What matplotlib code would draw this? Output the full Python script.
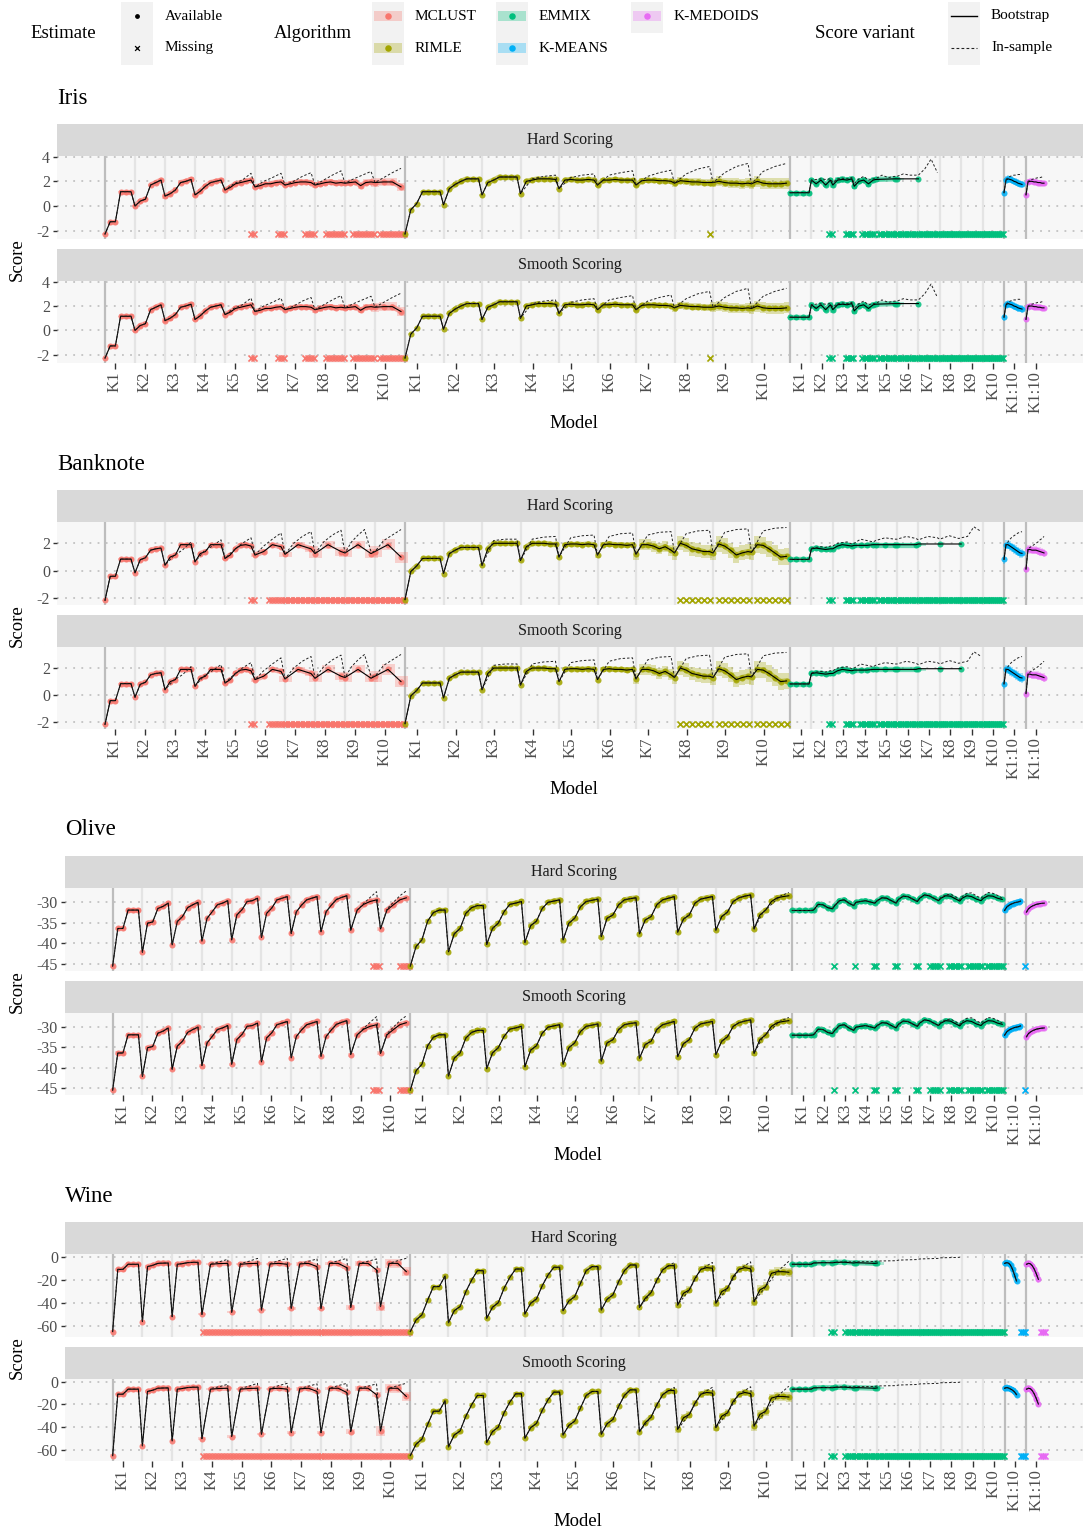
import matplotlib.pyplot as plt
from matplotlib.patches import Rectangle
from matplotlib.collections import LineCollection

plt.rcParams['font.family'] = ['Liberation Serif', 'DejaVu Serif']

W, H = 1083, 1530

# ---------------- data ----------------
# each algorithm: list of K groups -> bootstrap scores, in-sample scores
# (None = same as bootstrap), band half-width per K, missing models per K

# Iris
iris_mclust = [[-2.27, -1.27, -1.27, 1.16, 1.16, 1.16], [0.0, 0.4, 0.55, 1.7, 1.9, 2.1],
               [0.8, 1.0, 1.3, 1.9, 2.0, 2.15], [0.9, 1.2, 1.6, 1.9, 2.0, 2.1],
               [1.3, 1.5, 1.8, 1.9, 2.0, 2.1], [1.55, 1.65, 1.8, 1.8, 1.9, 1.95],
               [1.7, 1.8, 1.9, 1.95, 1.95, 1.9], [1.7, 1.8, 1.9, 1.95, 1.85, 1.9],
               [1.85, 1.9, 1.95, 1.65, 1.9, 1.95], [1.9, 1.95, 1.95, 1.55]]
iris_mclust_ins = [None, None, None, None, [1.3, 1.8, 2.1, 2.65], [1.55, 2.0, 2.3, 2.65],
                   [1.7, 2.0, 2.4, 2.7], [1.7, 2.1, 2.5, 2.85], [1.85, 2.2, 2.5, 2.8],
                   [1.9, 2.3, 2.7, 3.05]]
iris_mclust_band = [0.05, 0.1, 0.2, 0.15, 0.15, 0.15, 0.2, 0.25, 0.25, 0.35]
iris_mclust_miss = [0, 0, 0, 0, 2, 3, 4, 7, 8, 9]

iris_rimle = [[-2.27, -0.3, 0.2, 1.16, 1.16, 1.16, 1.16], [0.1, 1.4, 1.75, 2.0, 2.2, 2.2, 2.2],
              [0.9, 1.9, 2.1, 2.35, 2.35, 2.35, 2.35], [1.0, 2.0, 2.1, 2.2, 2.2, 2.2, 2.15],
              [1.4, 2.1, 2.15, 2.1, 2.1, 2.15, 2.1], [1.7, 2.1, 2.1, 2.15, 2.1, 2.1, 2.1],
              [1.7, 2.05, 2.1, 2.1, 2.05, 2.05, 2.0], [1.85, 2.05, 2.0, 1.95, 1.95, 1.9, 1.9],
              [1.9, 2.0, 1.9, 1.85, 1.85, 1.8, 1.85], [1.8, 2.0, 1.85, 1.8, 1.8, 1.8, 1.85]]
iris_rimle_ins = [None, None, None, [1.0, 2.2, 2.4, 2.5], [1.4, 2.3, 2.5, 2.6],
                  [1.7, 2.5, 2.7, 2.85], [1.7, 2.4, 2.7, 2.9], [1.85, 2.6, 3.0, 3.2],
                  [1.9, 2.7, 3.2, 3.45], [1.8, 2.8, 3.2, 3.45]]
iris_rimle_band = [0.05, 0.05, 0.05, 0.08, 0.1, 0.15, 0.2, 0.3, 0.4, 0.45]
iris_rimle_miss = [0, 0, 0, 0, 0, 0, 0, 1, 0, 0]

iris_emmix = [[1.08, 1.08, 1.08, 1.08], [2.1, 1.8, 2.1, 1.7, 2.1], [1.7, 2.1, 2.15, 2.1, 2.2],
              [1.6, 2.0, 2.1, 1.8, 2.1], [2.15, 2.2], [2.2], [2.2], [], [], []]
iris_emmix_ins = [None, [2.1, 2.15, 2.2, 2.15, 2.2], [1.9, 2.2, 2.25, 2.2, 2.3],
                  [1.8, 2.2, 2.4, 2.1, 2.2], [2.2, 2.5, 2.3, 2.4], [2.4, 2.6, 2.5, 2.5],
                  [2.5, 3.0, 3.8, 2.7], [], [], []]
iris_emmix_band = [0.05, 0.2, 0.25, 0.25, 0.1, 0.1, 0.1, 0, 0, 0]
iris_emmix_miss = [0, 2, 4, 6, 8, 9, 10, 11, 11, 11]

iris_kmeans = [[1.08, 2.1, 2.2, 2.15, 2.1, 2.0, 1.95, 1.85, 1.8, 1.75]]
iris_kmeans_ins = [[1.08, 2.15, 2.3, 2.4, 2.45, 2.5, 2.5, 2.55, 2.55, 2.6]]
iris_kmeans_band = [0.3]
iris_kmeans_miss = [0]
iris_kmedoids = [[0.9, 1.95, 2.0, 2.0, 1.95, 1.95, 1.9, 1.9, 1.85, 1.85]]
iris_kmedoids_ins = [[0.9, 2.0, 2.1, 2.15, 2.2, 2.25, 2.3, 2.3, 2.35, 2.4]]
iris_kmedoids_band = [0.2]
iris_kmedoids_miss = [0]

# Banknote
bank_mclust = [[-2.15, -0.4, -0.4, 0.85, 0.85, 0.85], [-0.15, 0.8, 0.95, 1.5, 1.6, 1.65],
               [0.4, 1.0, 1.15, 1.9, 1.9, 1.9], [0.65, 1.25, 1.4, 1.9, 1.9, 1.9],
               [0.9, 1.15, 1.6, 1.85, 1.9, 1.8], [1.15, 1.4, 1.9, 1.75],
               [1.2, 1.9, 1.6], [1.25, 1.9, 1.4], [1.3, 1.9, 1.25], [1.4, 1.9, 1.0]]
bank_mclust_ins = [None, None, [0.4, 1.1, 1.5, 2.1], [0.65, 1.4, 1.8, 2.25], [0.9, 1.5, 2.0, 2.4],
                   [1.15, 1.8, 2.3, 2.75], [1.2, 2.0, 2.5, 2.85], [1.25, 2.1, 2.6, 2.95],
                   [1.3, 2.1, 2.6, 3.0, 1.4], [1.4, 2.2, 2.6, 3.0]]
bank_mclust_band = [0.05, 0.05, 0.1, 0.1, 0.15, 0.15, 0.2, 0.3, 0.3, 0.4]
bank_mclust_miss = [0, 0, 0, 0, 2, 6, 12, 12, 12, 12]

bank_rimle = [[-2.1, -0.05, 0.35, 0.9, 0.9, 0.9, 0.9], [-0.2, 1.25, 1.5, 1.7, 1.7, 1.7, 1.7],
              [0.4, 1.6, 2.0, 2.0, 2.0, 2.0, 2.0], [0.75, 1.75, 2.0, 2.0, 2.0, 1.95, 1.95],
              [1.0, 1.9, 1.95, 1.95, 1.9, 1.95, 1.9], [1.15, 1.9, 1.95, 1.9, 1.9, 1.85, 1.9],
              [1.2, 1.9, 1.9, 1.8, 1.6, 1.75, 1.5], [1.3, 2.0, 1.85, 1.6, 1.5, 1.4, 1.4],
              [1.3, 1.95, 1.8, 1.5, 1.15, 1.3, 1.4], [1.35, 1.9, 1.85, 1.6, 1.3, 1.0, 1.05]]
bank_rimle_ins = [None, None, [0.4, 2.2, 2.3, 2.3], [0.75, 2.3, 2.45, 2.5], [1.0, 2.4, 2.55, 2.6],
                  [1.15, 2.5, 2.7, 2.75], [1.2, 2.6, 2.8, 2.85], [1.3, 2.7, 2.9, 2.95],
                  [1.3, 2.8, 3.0, 3.05], [1.35, 2.9, 3.1, 3.15]]
bank_rimle_band = [0.05, 0.05, 0.08, 0.1, 0.15, 0.2, 0.4, 0.5, 0.55, 0.6]
bank_rimle_miss = [0, 0, 0, 0, 0, 0, 0, 6, 6, 6]

bank_emmix = [[0.83, 0.83, 0.83, 0.83], [1.6, 1.65, 1.6, 1.55, 1.6], [1.6, 1.8, 1.9, 1.85, 1.8],
              [1.85, 1.85, 1.85, 1.9], [1.9, 1.9, 1.9], [1.9, 1.9], [1.95], [1.95], [1.95], []]
bank_emmix_ins = [None, [1.65, 1.7, 1.75, 1.7, 1.8], [1.8, 2.0, 2.05, 2.1, 1.95],
                  [2.0, 2.3, 2.2, 2.1], [2.2, 2.4, 2.3], [2.3, 2.5, 2.35], [2.25, 2.5, 2.4],
                  [2.3, 2.55, 2.35], [2.4, 2.5, 3.2, 2.9], []]
bank_emmix_band = [0.05, 0.1, 0.15, 0.1, 0.1, 0.1, 0.1, 0.1, 0.1, 0]
bank_emmix_miss = [0, 2, 4, 7, 8, 9, 10, 10, 10, 11]

bank_kmeans = [[0.83, 1.9, 1.9, 1.8, 1.7, 1.6, 1.5, 1.4, 1.3, 1.27]]
bank_kmeans_ins = [[0.83, 1.95, 2.1, 2.3, 2.45, 2.55, 2.65, 2.75, 2.8, 2.85]]
bank_kmeans_band = [0.35]
bank_kmeans_miss = [0]
bank_kmedoids = [[0.12, 1.55, 1.55, 1.5, 1.5, 1.5, 1.45, 1.4, 1.35, 1.3]]
bank_kmedoids_ins = [[0.12, 1.6, 1.7, 1.8, 1.9, 2.0, 2.1, 2.25, 2.35, 2.5]]
bank_kmedoids_band = [0.3]
bank_kmedoids_miss = [0]

# Olive
olive_mclust = [[-45.6, -36.4, -36.4, -31.9, -31.9, -31.9], [-42.2, -35.1, -34.8, -31.5, -31.0, -30.2],
                [-40.4, -34.7, -33.5, -31.3, -30.6, -30.0], [-39.5, -33.9, -32.3, -30.6, -30.2, -29.6],
                [-39.2, -33.1, -31.8, -29.8, -29.6, -29.0], [-38.6, -32.7, -31.4, -29.4, -29.0, -28.6],
                [-37.6, -32.3, -30.7, -29.4, -29.0, -28.6], [-37.2, -32.3, -30.7, -29.3, -28.8, -28.4],
                [-36.8, -31.9, -30.5, -29.8, -29.4], [-36.5, -31.9, -30.6, -29.4, -28.9]]
olive_mclust_ins = [None, None, None, None, None, None, None, None,
                    [-36.8, -31.9, -30.3, -28.8, -27.4], [-36.5, -31.6, -30.0, -28.4, -27.2]]
olive_mclust_band = [0.4, 0.4, 0.4, 0.4, 0.4, 0.4, 0.4, 0.4, 0.5, 0.5]
olive_mclust_miss = [0, 0, 0, 0, 0, 0, 0, 0, 3, 4]

olive_rimle = [[-45.6, -40.8, -39.2, -34.6, -32.5, -31.9, -31.9],
               [-42.1, -37.7, -36.4, -32.7, -31.3, -30.8, -30.8],
               [-40.3, -36.4, -35.1, -32.3, -30.5, -30.2, -29.8],
               [-39.8, -35.7, -34.6, -31.5, -30.0, -29.7, -29.4],
               [-39.2, -35.1, -33.9, -31.1, -29.8, -29.5, -29.2],
               [-38.4, -33.9, -33.1, -30.6, -29.4, -29.1, -28.9],
               [-37.7, -34.3, -33.5, -30.6, -29.4, -29.0, -28.6],
               [-37.3, -34.1, -33.1, -30.2, -29.2, -28.9, -28.6],
               [-36.8, -33.5, -32.4, -29.8, -28.9, -28.5, -28.2],
               [-36.5, -33.1, -31.9, -29.8, -28.9, -28.6, -28.4]]
olive_rimle_ins = [None, None, None, None, None, None, None, None, None,
                   [-36.5, -32.5, -30.5, -28.5, -27.6]]
olive_rimle_band = [0.5, 0.5, 0.5, 0.5, 0.5, 0.5, 0.5, 0.5, 0.5, 0.6]
olive_rimle_miss = [0, 0, 0, 0, 0, 0, 0, 0, 0, 0]

olive_emmix = [[-32.0, -32.0, -32.0, -32.0], [-31.9, -30.5, -30.6, -31.3, -31.6],
               [-30.8, -29.6, -29.4, -30.2, -30.8], [-30.0, -29.8, -29.6, -29.9, -30.2],
               [-29.6, -28.9, -29.0, -29.6, -30.2], [-29.3, -28.5, -28.6, -29.2, -29.8],
               [-29.0, -28.2, -28.4, -29.0, -29.6], [-29.0, -28.4, -28.5, -29.1, -29.7],
               [-29.0, -28.4, -28.6, -29.2, -29.6], [-29.0, -28.4, -28.5, -29.0, -29.3]]
olive_emmix_ins = [None, None, None, None, None, None, None,
                   [-28.8, -28.2, -28.0, -28.6, -29.3], [-28.6, -27.8, -27.7, -28.4, -29.0],
                   [-28.5, -27.6, -27.8, -28.3, -29.0]]
olive_emmix_band = [0.3, 0.4, 0.4, 0.4, 0.4, 0.4, 0.4, 0.4, 0.4, 0.4]
olive_emmix_miss = [0, 1, 1, 2, 2, 2, 5, 6, 7, 8]

olive_kmeans = [[-32.0, -31.2, -30.8, -30.5, -30.3, -30.1, -30.0, -29.9, -29.7]]
olive_kmeans_ins = [None]
olive_kmeans_band = [0.5]
olive_kmeans_miss = [1]
olive_kmedoids = [[-32.4, -31.6, -31.2, -30.9, -30.7, -30.5, -30.4, -30.3, -30.25, -30.2]]
olive_kmedoids_ins = [None]
olive_kmedoids_band = [0.5]
olive_kmedoids_miss = [0]

# Wine
wine_mclust = [[-64.8, -11.0, -11.0, -6.6, -6.6, -6.6], [-56.2, -8.6, -7.5, -5.8, -5.6, -5.5],
               [-51.9, -6.6, -6.0, -5.2, -4.9, -4.9], [-49.9, -6.6, -6.0, -5.8],
               [-48.1, -6.6, -6.0, -5.8], [-46.1, -6.3, -5.8, -6.6], [-44.7, -6.3, -5.8, -8.6],
               [-44.7, -5.8, -5.8, -9.5], [-43.8, -5.8, -5.8, -11.5], [-43.2, -5.8, -5.8, -13.0]]
wine_mclust_ins = [None, None, None, [-49.9, -6.0, -4.5, -2.3], [-48.1, -6.0, -4.0, -1.5],
                   [-46.1, -6.0, -3.5, -1.5], [-44.7, -6.0, -4.0, -2.0], [-44.7, -5.8, -3.5, -1.5],
                   [-43.8, -5.8, -4.0, -2.0], [-43.2, -5.8, -3.5, -1.4]]
wine_mclust_band = [1, 1, 1, 1, 1, 1, 1.5, 1.5, 2, 4]
wine_mclust_miss = [0, 0, 0, 10, 10, 10, 10, 10, 10, 10]

wine_rimle = [[-64.8, -54.8, -50.4, -37.5, -25.9, -25.9, -16.7],
              [-57.1, -46.7, -43.2, -30.3, -20.2, -12.1, -12.1],
              [-53.3, -43.8, -39.8, -27.4, -17.9, -10.7, -10.7],
              [-49.6, -40.3, -36.6, -25.1, -15.9, -9.2, -9.2],
              [-46.7, -38.3, -34.6, -23.1, -12.1, -8.6, -8.6],
              [-46.1, -36.9, -33.1, -21.6, -12.1, -7.2, -7.2],
              [-43.8, -36.0, -31.1, -20.2, -11.5, -7.8, -7.8],
              [-41.8, -31.7, -28.8, -18.7, -11.0, -9.5, -10.0],
              [-40.3, -30.3, -27.4, -17.3, -11.0, -9.5, -10.5],
              [-38.9, -28.8, -25.9, -14.4, -13.0, -13.0, -13.5]]
wine_rimle_ins = [None, None, None, None, None, None,
                  [-43.8, -31.1, -11.5, -5.0], [-41.8, -28.8, -11.0, -5.0],
                  [-40.3, -27.4, -11.0, -4.5], [-38.9, -25.9, -13.0, -4.0]]
wine_rimle_band = [1.5, 1.5, 1.5, 1.5, 1.5, 1.5, 2, 3, 3, 4]
wine_rimle_miss = [0, 0, 0, 0, 0, 0, 0, 0, 0, 0]

wine_emmix = [[-6.6, -6.6, -6.6, -6.6], [-5.5, -5.2, -5.3], [-5.0, -4.8, -5.5], [-5.2, -5.8],
              [-5.5], [], [], [], [], []]
wine_emmix_ins = [None, [-5.3, -5.0, -5.0], [-4.8, -4.5, -4.5], [-4.5, -4.2], [-3.8, -3.5],
                  [-3.0, -2.5], [-2.0, -1.5], [-1.0, -0.6], [], []]
wine_emmix_band = [0.8, 1, 1, 1, 1, 0, 0, 0, 0, 0]
wine_emmix_miss = [0, 2, 5, 9, 10, 11, 11, 11, 11, 11]

wine_kmeans_hard = [[-5.8, -5.2, -5.6, -7.5, -11.0, -16.0, -21.0]]
wine_kmeans_smooth = [[-5.8, -5.2, -5.6, -6.5, -7.5, -9.0, -11.4]]
wine_kmeans_ins = [None]
wine_kmeans_band = [3]
wine_kmeans_miss = [3]
wine_kmedoids = [[-6.6, -5.8, -6.2, -8.0, -11.0, -15.0, -19.6]]
wine_kmedoids_ins = [None]
wine_kmedoids_band = [3]
wine_kmedoids_miss = [3]

# ---------------- layout ----------------
ALGOS = ["MCLUST", "RIMLE", "EMMIX", "K-MEANS", "K-MEDOIDS"]
COLORS = ["#F8766D", "#A3A500", "#00BF7D", "#00B0F6", "#E76BF3"]
GROUP_W = [15, 19.25, 10.7, 11, 10]     # width of one K group, in model slots
SPAN = [13, 17.5, 9.5, 9, 9]
TICK_OFF = [5, 6, 5.3, 5, 5]
CROSS_STEP = [1.5, 3, 1.2, 1, 1]
PT_STEP = [None, None, None, 1, 1]

iris_algos = [(iris_mclust, iris_mclust_ins, iris_mclust_band, iris_mclust_miss),
              (iris_rimle, iris_rimle_ins, iris_rimle_band, iris_rimle_miss),
              (iris_emmix, iris_emmix_ins, iris_emmix_band, iris_emmix_miss),
              (iris_kmeans, iris_kmeans_ins, iris_kmeans_band, iris_kmeans_miss),
              (iris_kmedoids, iris_kmedoids_ins, iris_kmedoids_band, iris_kmedoids_miss)]
bank_algos = [(bank_mclust, bank_mclust_ins, bank_mclust_band, bank_mclust_miss),
              (bank_rimle, bank_rimle_ins, bank_rimle_band, bank_rimle_miss),
              (bank_emmix, bank_emmix_ins, bank_emmix_band, bank_emmix_miss),
              (bank_kmeans, bank_kmeans_ins, bank_kmeans_band, bank_kmeans_miss),
              (bank_kmedoids, bank_kmedoids_ins, bank_kmedoids_band, bank_kmedoids_miss)]
olive_algos = [(olive_mclust, olive_mclust_ins, olive_mclust_band, olive_mclust_miss),
               (olive_rimle, olive_rimle_ins, olive_rimle_band, olive_rimle_miss),
               (olive_emmix, olive_emmix_ins, olive_emmix_band, olive_emmix_miss),
               (olive_kmeans, olive_kmeans_ins, olive_kmeans_band, olive_kmeans_miss),
               (olive_kmedoids, olive_kmedoids_ins, olive_kmedoids_band, olive_kmedoids_miss)]
wine_hard = [(wine_mclust, wine_mclust_ins, wine_mclust_band, wine_mclust_miss),
             (wine_rimle, wine_rimle_ins, wine_rimle_band, wine_rimle_miss),
             (wine_emmix, wine_emmix_ins, wine_emmix_band, wine_emmix_miss),
             (wine_kmeans_hard, wine_kmeans_ins, wine_kmeans_band, wine_kmeans_miss),
             (wine_kmedoids, wine_kmedoids_ins, wine_kmedoids_band, wine_kmedoids_miss)]
wine_smooth = wine_hard[:3] + [(wine_kmeans_smooth, wine_kmeans_ins, wine_kmeans_band, wine_kmeans_miss),
                               wine_hard[4]]

blocks = [
    ("Iris", 57, [-2, 0, 2, 4], (-2.67, 4.05), iris_algos, iris_algos),
    ("Banknote", 57, [-2, 0, 2], (-2.49, 3.55), bank_algos, bank_algos),
    ("Olive", 65, [-45, -40, -35, -30], (-46.8, -26.5), olive_algos, olive_algos),
    ("Wine", 65, [-60, -40, -20, 0], (-69.5, 2.3), wine_hard, wine_smooth),
]

fig = plt.figure(figsize=(W / 100, H / 100), dpi=100)


def px_axes(x0, y0, x1, y1):
    return fig.add_axes([x0 / W, 1 - y1 / H, (x1 - x0) / W, (y1 - y0) / H])


def positions(g0, n, a):
    if n == 0:
        return [], 1.5
    if PT_STEP[a]:
        step = PT_STEP[a]
    elif n == 1:
        step = 0
    else:
        step = SPAN[a] / (n - 1)
    return [g0 + i * step for i in range(n)], (step if step > 0 else 1.5)


def draw_panel(ax, algos, ylim, yticks, show_x):
    ax.set_facecolor('#F7F7F7')
    for s in ax.spines.values():
        s.set_visible(False)
    ax.set_xlim(-24, 489)
    ax.set_ylim(*ylim)
    ax.set_yticks(yticks)
    ax.set_yticklabels([str(t) for t in yticks])
    for yt in yticks:
        ax.axhline(yt, color='#C2C2C2', lw=1.3, ls=(0, (1, 3.5)), zorder=0)
    floor = min(v for boot, _, _, _ in algos for g in boot for v in g)
    thr = 0.07 * (ylim[1] - ylim[0])
    start = 0
    ticks, labels = [], []
    for a, (boot, ins, band, miss) in enumerate(algos):
        col = COLORS[a]
        gw = GROUP_W[a]
        ax.axvline(start, color='#BDBDBD', lw=1.6, zorder=1)
        bx, by, ix, iy, halo = [], [], [], [], []
        for g in range(len(boot)):
            g0 = start + g * gw
            if g > 0:
                ax.axvline(g0, color='#E4E4E4', lw=1.6, zorder=1)
            vals = boot[g]
            xs, step = positions(g0, len(vals), a)
            if vals and band[g] > 0:
                ax.bar(xs, [2 * band[g]] * len(vals), bottom=[v - band[g] for v in vals],
                       width=step, color=col, alpha=0.3, lw=0, zorder=2)
            for i in range(1, len(vals)):
                if abs(vals[i] - vals[i - 1]) < thr:
                    halo.append([(xs[i - 1], vals[i - 1]), (xs[i], vals[i])])
            bx += xs
            by += vals
            if ins[g] is None:
                ix += xs
                iy += vals
            else:
                n_in = len(ins[g])
                if PT_STEP[a] is None and n_in > 1:
                    ixs = [g0 + SPAN[a] * i / (n_in - 1) for i in range(n_in)]
                else:
                    ixs, _ = positions(g0, n_in, a)
                ix += ixs
                iy += ins[g]
            m = miss[g]
            if m:
                cs = min(CROSS_STEP[a], gw / m)
                cx = [g0 + gw - cs * (j + 0.5) for j in range(m)]
                ax.scatter(cx, [floor] * m, marker='x', s=19, color=col, lw=1.2, zorder=3)
            ticks.append(g0 + TICK_OFF[a])
            labels.append("K%d" % (g + 1) if len(boot) > 1 else "K1:10")
        ax.add_collection(LineCollection(halo, colors=col, linewidths=3.8, alpha=0.55,
                                         capstyle='round', zorder=3))
        ax.scatter(bx, by, s=19, color=col, alpha=0.85, lw=0, zorder=4)
        ax.plot(bx, by, color='black', lw=0.8, zorder=5)
        ax.plot(ix, iy, color='#222222', lw=0.7, ls=(0, (2.5, 2)), zorder=6)
        start += gw * len(boot)
    ax.tick_params(axis='y', length=3, width=1, color='#333333', labelcolor='#4D4D4D',
                   labelsize=11.5, pad=2)
    if show_x:
        ax.set_xticks(ticks)
        ax.set_xticklabels(labels)
        ax.tick_params(axis='x', length=4, width=1, color='#333333', labelcolor='#4D4D4D',
                       labelsize=12, labelrotation=90, pad=2)
    else:
        ax.set_xticks([])


def draw_strip(x0, y0, x1, y1, text):
    s = px_axes(x0, y0, x1, y1)
    s.set_facecolor('#D9D9D9')
    for sp in s.spines.values():
        sp.set_visible(False)
    s.set_xticks([])
    s.set_yticks([])
    s.text(0.5, 0.5, text, ha='center', va='center', fontsize=11.5, color='#1A1A1A',
           transform=s.transAxes)


for b, (name, left, yticks, ylim, hard, smooth) in enumerate(blocks):
    off = 366 * b
    fig.text(left / W, 1 - (98 + off) / H, name, fontsize=16.5, va='center', ha='left')
    draw_strip(left, 124 + off, W, 156 + off, "Hard Scoring")
    ax1 = px_axes(left, 156 + off, W, 239 + off)
    draw_panel(ax1, hard, ylim, yticks, False)
    draw_strip(left, 249 + off, W, 281 + off, "Smooth Scoring")
    ax2 = px_axes(left, 281 + off, W, 363 + off)
    draw_panel(ax2, smooth, ylim, yticks, True)
    fig.text(17 / W, 1 - (259.5 + off) / H, "Score", rotation=90, ha='center', va='center',
             fontsize=13.5)
    fig.text(((left + W) / 2 + 4) / W, 1 - (423 + off) / H, "Model", ha='center', va='center',
             fontsize=13.5)

# ---------------- legend ----------------
leg = px_axes(0, 0, W, 68)
leg.set_xlim(0, W)
leg.set_ylim(68, 0)
leg.axis('off')
leg.text(30, 33, "Estimate", fontsize=13.5, va='center')
leg.add_patch(Rectangle((121, 2), 32, 63, color='#F2F2F2', lw=0))
leg.scatter([137], [16], s=6, color='black')
leg.scatter([137], [48], s=12, marker='x', color='black', lw=0.9)
leg.text(165, 16, "Available", fontsize=11, va='center')
leg.text(165, 48, "Missing", fontsize=11, va='center')

leg.text(274, 33, "Algorithm", fontsize=13.5, va='center')
key_pos = [(388, 16), (388, 48), (512, 16), (512, 48), (647, 16)]
leg.add_patch(Rectangle((372, 2), 32, 63, color='#F2F2F2', lw=0))
leg.add_patch(Rectangle((496, 2), 32, 63, color='#F2F2F2', lw=0))
leg.add_patch(Rectangle((631, 2), 32, 31, color='#F2F2F2', lw=0))
for (kx, ky), name, col in zip(key_pos, ALGOS, COLORS):
    leg.add_patch(Rectangle((kx - 14, ky - 5), 28, 10, color=col, alpha=0.3, lw=0))
    leg.scatter([kx], [ky], s=22, color=col, lw=0)
    leg.text(kx + 27, ky, name, fontsize=11, va='center')

leg.text(815, 33, "Score variant", fontsize=13.5, va='center')
leg.add_patch(Rectangle((948, 2), 32, 63, color='#F2F2F2', lw=0))
leg.plot([951, 977], [16, 16], color='black', lw=1.0)
leg.plot([951, 977], [48, 48], color='#222222', lw=0.8, ls=(0, (2.5, 2)))
leg.text(991, 16, "Bootstrap", fontsize=11, va='center')
leg.text(991, 48, "In-sample", fontsize=11, va='center')

fig.savefig("out.png", dpi=100)
